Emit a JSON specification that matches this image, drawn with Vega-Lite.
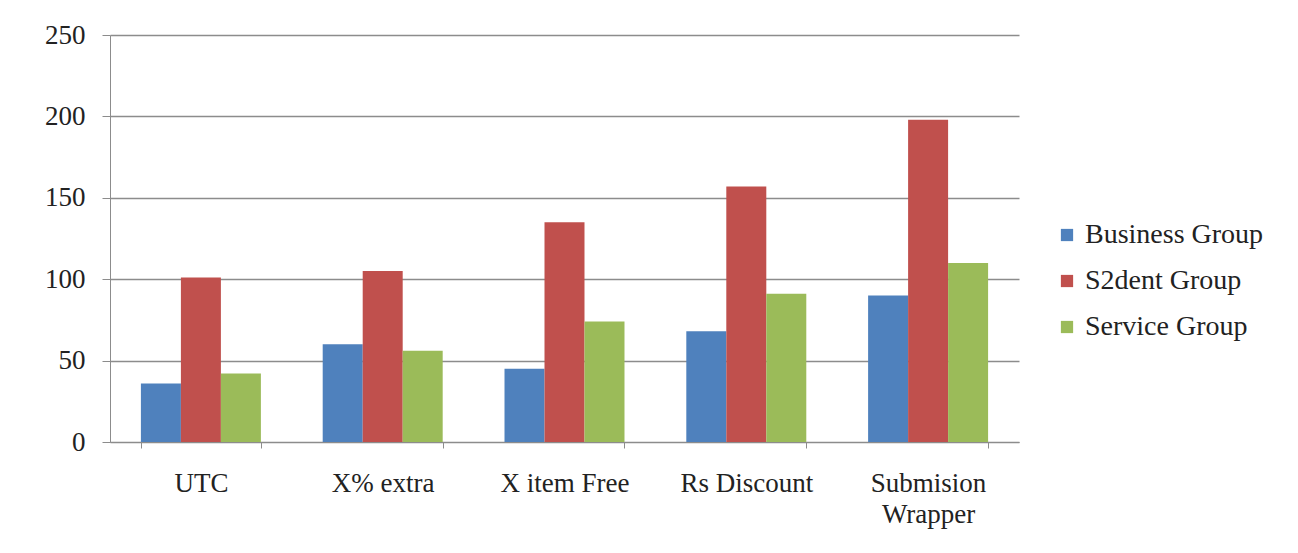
{
  "$schema": "https://vega.github.io/schema/vega-lite/v6.json",
  "width": 909,
  "height": 407,
  "padding": {"left": 44, "top": 21, "right": 10, "bottom": 5},
  "background": "white",
  "data": {
    "values": [
      {"category": "UTC", "group": "Business Group", "value": 36},
      {"category": "UTC", "group": "S2dent Group", "value": 101},
      {"category": "UTC", "group": "Service Group", "value": 42},
      {"category": "X% extra", "group": "Business Group", "value": 60},
      {"category": "X% extra", "group": "S2dent Group", "value": 105},
      {"category": "X% extra", "group": "Service Group", "value": 56},
      {"category": "X item Free", "group": "Business Group", "value": 45},
      {"category": "X item Free", "group": "S2dent Group", "value": 135},
      {"category": "X item Free", "group": "Service Group", "value": 74},
      {"category": "Rs Discount", "group": "Business Group", "value": 68},
      {"category": "Rs Discount", "group": "S2dent Group", "value": 157},
      {"category": "Rs Discount", "group": "Service Group", "value": 91},
      {"category": "Submision Wrapper", "group": "Business Group", "value": 90},
      {"category": "Submision Wrapper", "group": "S2dent Group", "value": 198},
      {"category": "Submision Wrapper", "group": "Service Group", "value": 110}
    ]
  },
  "mark": {"type": "bar"},
  "encoding": {
    "x": {
      "field": "category",
      "type": "nominal",
      "sort": null,
      "title": null,
      "scale": {"paddingInner": 0.34, "paddingOuter": 0.17},
      "axis": {
        "labelAngle": 0,
        "tickBand": "extent",
        "tickSize": 6,
        "tickColor": "#8c8c8c",
        "domainColor": "#8c8c8c",
        "labelPadding": 22,
        "labelFont": "Liberation Serif",
        "labelFontSize": 27,
        "labelColor": "#222222",
        "labelLineHeight": 31,
        "labelBaseline": "top",
        "labelExpr": "datum.value == 'Submision Wrapper' ? ['Submision', 'Wrapper'] : datum.value"
      }
    },
    "xOffset": {"field": "group", "type": "nominal"},
    "y": {
      "field": "value",
      "type": "quantitative",
      "title": null,
      "scale": {"domain": [0, 250]},
      "axis": {
        "values": [0, 50, 100, 150, 200, 250],
        "tickSize": 8,
        "tickColor": "#8c8c8c",
        "domainColor": "#8c8c8c",
        "gridColor": "#8c8c8c",
        "gridWidth": 1.5,
        "labelPadding": 17,
        "labelFont": "Liberation Serif",
        "labelFontSize": 27,
        "labelColor": "#222222"
      }
    },
    "color": {
      "field": "group",
      "type": "nominal",
      "scale": {
        "domain": ["Business Group", "S2dent Group", "Service Group"],
        "range": ["#4F81BD", "#C0504D", "#9BBB59"]
      },
      "legend": {
        "title": null,
        "orient": "none",
        "legendX": 943,
        "legendY": 186,
        "symbolType": "square",
        "symbolSize": 150,
        "symbolStrokeWidth": 0,
        "labelFont": "Liberation Serif",
        "labelFontSize": 28,
        "labelColor": "#222222",
        "labelOffset": 4,
        "labelLimit": 0,
        "rowPadding": 18,
        "padding": 0,
        "values": ["Business Group", "S2dent Group", "Service Group"]
      }
    }
  },
  "config": {
    "view": {"stroke": null}
  }
}
